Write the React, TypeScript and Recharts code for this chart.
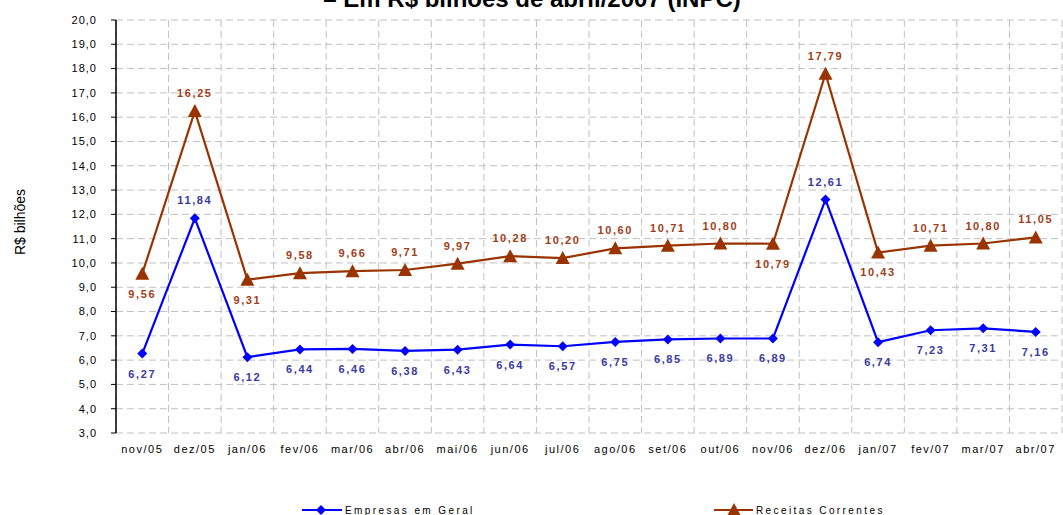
import React from 'react';
import { CartesianGrid, LabelList, Line, LineChart, XAxis, YAxis } from 'recharts';

const months = [
  'nov/05', 'dez/05', 'jan/06', 'fev/06', 'mar/06', 'abr/06', 'mai/06', 'jun/06', 'jul/06',
  'ago/06', 'set/06', 'out/06', 'nov/06', 'dez/06', 'jan/07', 'fev/07', 'mar/07', 'abr/07',
];
const empresas = [6.27, 11.84, 6.12, 6.44, 6.46, 6.38, 6.43, 6.64, 6.57, 6.75, 6.85, 6.89, 6.89, 12.61, 6.74, 7.23, 7.31, 7.16];
const receitas = [9.56, 16.25, 9.31, 9.58, 9.66, 9.71, 9.97, 10.28, 10.2, 10.6, 10.71, 10.8, 10.79, 17.79, 10.43, 10.71, 10.8, 11.05];
const yTicks = [3, 4, 5, 6, 7, 8, 9, 10, 11, 12, 13, 14, 15, 16, 17, 18, 19, 20];

// labels that go on the other side of the point
const empresasAbove = [1, 13];
const receitasBelow = [0, 2, 12, 14];

const BLUE = '#0000ff';
const BROWN = '#993300';
const FONT = 'Arial, "Liberation Sans", sans-serif';

const data = months.map((m, i) => ({ x: i + 0.5, month: m, empresas: empresas[i], receitas: receitas[i] }));
const boundaryTicks = months.map((_, i) => i).concat(months.length);
const centerTicks = months.map((_, i) => i + 0.5);

const fmt = (v: number) => v.toFixed(2).replace('.', ',');

const Diamond = (props: any) => {
  const { cx, cy } = props;
  if (cx == null || cy == null) return null;
  return <polygon points={`${cx},${cy - 5} ${cx + 5},${cy} ${cx},${cy + 5} ${cx - 5},${cy}`} fill={BLUE} />;
};

const Triangle = (props: any) => {
  const { cx, cy } = props;
  if (cx == null || cy == null) return null;
  return <polygon points={`${cx},${cy - 7} ${cx + 7},${cy + 6} ${cx - 7},${cy + 6}`} fill={BROWN} />;
};

const makeLabel = (color: string, flipped: number[], defaultAbove: boolean) => (props: any) => {
  const { x, y, value, index } = props;
  const above = flipped.includes(index) ? !defaultAbove : defaultAbove;
  return (
    <text
      x={x}
      y={above ? y - 18 : y + 20}
      textAnchor="middle"
      dominantBaseline="central"
      fill={color}
      fontSize={11}
      fontWeight="bold"
      letterSpacing={1.6}
      fontFamily={FONT}
    >
      {fmt(value)}
    </text>
  );
};

export default function App() {
  return (
    <div style={{ position: 'absolute', left: 0, top: 0, width: 1063, height: 515, background: '#fff', overflow: 'hidden' }}>
      <LineChart width={1063} height={515} data={data} margin={{ top: 20, right: 1, bottom: 52, left: 0 }}>
        <CartesianGrid stroke="#c0c0c0" strokeDasharray="7 4" xAxisId="grid" />
        <XAxis
          xAxisId="grid"
          dataKey="x"
          type="number"
          domain={[0, months.length]}
          ticks={boundaryTicks}
          interval={0}
          tickFormatter={() => ''}
          tickSize={6}
          height={0}
          axisLine={{ stroke: '#000', strokeWidth: 1.5 }}
          tickLine={{ stroke: '#000', strokeWidth: 1.5 }}
        />
        <XAxis
          xAxisId="lbl"
          dataKey="x"
          type="number"
          domain={[0, months.length]}
          ticks={centerTicks}
          tickFormatter={(v: number) => months[Math.floor(v)]}
          axisLine={false}
          tickLine={false}
          tickSize={6}
          tickMargin={6}
          height={30}
          interval={0}
          tick={{ fill: '#000', fontSize: 11, fontFamily: FONT, letterSpacing: 1.5 }}
        />
        <YAxis
          domain={[3, 20]}
          ticks={yTicks}
          interval={0}
          width={116}
          tickSize={5}
          tickMargin={14}
          tickFormatter={(v: number) => v.toFixed(1).replace('.', ',')}
          axisLine={{ stroke: '#000', strokeWidth: 1.5 }}
          tickLine={{ stroke: '#000' }}
          tick={{ fill: '#000', fontSize: 11, fontFamily: FONT, letterSpacing: 1 }}
        />
        <Line
          xAxisId="grid"
          dataKey="empresas"
          stroke={BLUE}
          strokeWidth={2.2}
          dot={<Diamond />}
          activeDot={false}
          isAnimationActive={false}
        >
          <LabelList dataKey="empresas" content={makeLabel('#3a3aa0', empresasAbove, false)} />
        </Line>
        <Line
          xAxisId="grid"
          dataKey="receitas"
          stroke={BROWN}
          strokeWidth={2.2}
          dot={<Triangle />}
          activeDot={false}
          isAnimationActive={false}
        >
          <LabelList dataKey="receitas" content={makeLabel('#a0401a', receitasBelow, true)} />
        </Line>
      </LineChart>
      <svg width={1063} height={515} style={{ position: 'absolute', left: 0, top: 0, pointerEvents: 'none' }}>
        <text x={532} y={7} textAnchor="middle" fontSize={24} fontWeight="bold" fontFamily={FONT} fill="#000">
          – Em R$ bilhões de abril/2007 (INPC)
        </text>
        <text
          x={25}
          y={222}
          transform="rotate(-90 25 222)"
          textAnchor="middle"
          fontSize={14}
          fontFamily={FONT}
          fill="#000"
        >
          R$ bilhões
        </text>
        <g>
          <line x1={302} x2={342} y1={510} y2={510} stroke={BLUE} strokeWidth={2.2} />
          <Diamond cx={321} cy={510} />
          <text x={345} y={510} dominantBaseline="central" fontSize={10} letterSpacing={2.4} fontFamily={FONT} fill="#000">
            Empresas em Geral
          </text>
        </g>
        <g>
          <line x1={714} x2={753} y1={510} y2={510} stroke={BROWN} strokeWidth={2.2} />
          <Triangle cx={734} cy={510} />
          <text x={756} y={510} dominantBaseline="central" fontSize={10} letterSpacing={2.4} fontFamily={FONT} fill="#000">
            Receitas Correntes
          </text>
        </g>
      </svg>
    </div>
  );
}
